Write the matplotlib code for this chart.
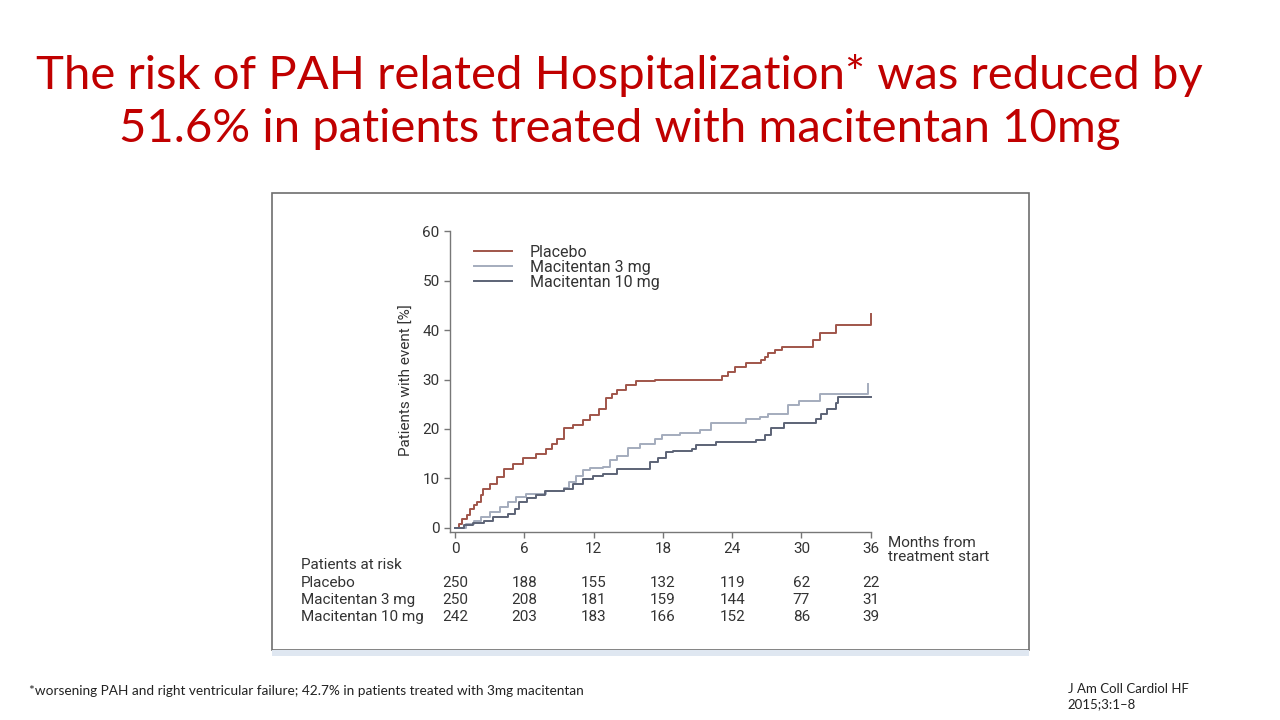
import matplotlib
matplotlib.use("Agg")
import matplotlib.pyplot as plt
from matplotlib.patches import Rectangle
from matplotlib.transforms import blended_transform_factory

# Kaplan-Meier style step curves (months, % with event)
placebo_t = [0, 0.3, 0.6, 1.0, 1.3, 1.6, 1.9, 2.2, 2.4, 3.0, 3.6, 4.2, 5.0, 5.9, 7.0, 7.9,
             8.4, 8.8, 9.4, 10.2, 11.1, 11.7, 12.5, 13.1, 13.6, 14.0, 14.8, 15.7, 17.3,
             23.1, 23.6, 24.2, 25.2, 26.5, 26.8, 27.1, 27.7, 28.3, 31.0, 31.6, 33.0, 36, 36]
placebo_v = [0, 0.8, 1.7, 2.5, 3.8, 4.5, 5.1, 6.5, 7.9, 8.9, 10.2, 11.9, 12.9, 14.0, 15.0, 16.0,
             17.0, 18.0, 20.1, 20.7, 21.7, 22.8, 24.1, 26.2, 27.0, 27.8, 28.9, 29.7, 30.0,
             30.7, 31.6, 32.6, 33.3, 33.9, 34.6, 35.3, 36.0, 36.6, 38.0, 39.4, 41.1, 41.1, 43.2]

mac3_t = [0, 0.9, 1.6, 2.2, 3.0, 3.9, 4.6, 5.3, 6.1, 7.9, 9.4, 9.9, 10.5, 11.1, 11.7, 12.8,
          13.4, 14.0, 15.0, 16.0, 17.3, 17.9, 19.5, 21.2, 22.2, 25.2, 26.4, 27.1, 28.8, 29.8,
          31.6, 35.8, 35.8]
mac3_v = [0, 0.7, 1.3, 2.1, 3.1, 4.1, 5.1, 6.2, 6.8, 7.5, 8.1, 9.2, 10.4, 11.6, 12.1, 12.3,
          13.6, 14.6, 16.2, 17.0, 18.0, 18.7, 19.2, 19.7, 21.2, 21.9, 22.4, 23.1, 24.8, 25.7,
          27.0, 27.0, 29.0]

mac10_t = [0, 0.8, 1.5, 2.5, 3.3, 4.6, 5.2, 5.5, 6.2, 7.0, 7.8, 9.4, 10.2, 11.1, 11.9, 12.8,
           14.0, 16.9, 17.6, 18.3, 18.9, 20.5, 20.9, 22.6, 26.1, 26.8, 27.4, 28.5, 31.3, 31.7,
           32.2, 33.0, 33.2, 36]
mac10_v = [0, 0.6, 1.0, 1.4, 2.1, 2.8, 3.8, 5.1, 6.0, 6.5, 7.4, 7.9, 8.9, 9.9, 10.4, 10.9,
           11.8, 13.3, 14.0, 15.3, 15.6, 16.0, 16.7, 17.3, 17.8, 18.7, 20.1, 21.1, 21.9, 23.1,
           24.1, 25.3, 26.5, 26.5]

months = [0, 6, 12, 18, 24, 30, 36]
groups = ["Placebo", "Macitentan 3 mg", "Macitentan 10 mg"]
at_risk = [
    [250, 188, 155, 132, 119, 62, 22],
    [250, 208, 181, 159, 144, 77, 31],
    [242, 203, 183, 166, 152, 86, 39],
]
colors = ["#a0554a", "#a4acbd", "#5c6376"]

title = ("The risk of PAH related Hospitalization* was reduced by\n"
         "51.6% in patients treated with macitentan 10mg")
footnote = "*worsening PAH and right ventricular failure; 42.7% in patients treated with 3mg macitentan"
citation = "J Am Coll Cardiol HF\n2015;3:1\u20138"

fs = 11  # chart text size

fig = plt.figure(figsize=(12.8, 7.2), dpi=100)

# title and slide notes
fig.text(0.484, 0.858, title, ha="center", va="center", color="#c00000",
         fontsize=34, family="Lato", linespacing=1.33)
fig.text(0.023, 0.040, footnote, ha="left", va="center", fontsize=9.8, family="Lato", color="#222222")
fig.text(0.834, 0.032, citation, ha="left", va="center", fontsize=9.5, family="Lato",
         color="#222222", linespacing=1.3)

# frame of the pasted figure
fig.patches.append(Rectangle((272 / 1280, 1 - 650 / 720), (1029 - 272) / 1280, (650 - 193) / 720,
                             transform=fig.transFigure, fill=False, edgecolor="#6e6e6e", lw=1.2))
fig.patches.append(Rectangle((272 / 1280, 1 - 656 / 720), (1029 - 272) / 1280, 6 / 720,
                             transform=fig.transFigure, facecolor="#dfe7f1", edgecolor="none"))

ax = fig.add_axes([450 / 1280, 1 - 532 / 720, (873 - 450) / 1280, (532 - 229) / 720])
ax.step(placebo_t, placebo_v, where="post", color=colors[0], lw=1.4, label=groups[0])
ax.step(mac3_t, mac3_v, where="post", color=colors[1], lw=1.4, label=groups[1])
ax.step(mac10_t, mac10_v, where="post", color=colors[2], lw=1.4, label=groups[2])

ax.set_xlim(-0.45, 36.2)
ax.set_ylim(-0.9, 60.5)
ax.set_xticks(months)
ax.set_yticks([0, 10, 20, 30, 40, 50, 60])
for s in ["top", "right"]:
    ax.spines[s].set_visible(False)
for s in ["left", "bottom"]:
    ax.spines[s].set_color("#777777")
    ax.spines[s].set_linewidth(1.0)
ax.spines["left"].set_bounds(-0.9, 60)
ax.spines["bottom"].set_bounds(-0.45, 36)
ax.tick_params(colors="#777777", labelcolor="#333333", labelsize=fs, length=4, width=1.0)
for lab in ax.get_xticklabels() + ax.get_yticklabels():
    lab.set_family("Roboto")
ax.tick_params(axis="x", pad=3)
ax.set_ylabel("Patients with event [%]", family="Roboto", fontsize=fs, color="#333333", labelpad=6)

leg = ax.legend(loc="upper left", bbox_to_anchor=(0.03, 0.985), frameon=False, handlelength=2.4,
                handletextpad=1.1, labelspacing=0.0, borderpad=0.2,
                prop={"family": "Roboto", "size": fs + 0.5})
for t in leg.get_texts():
    t.set_color("#333333")

ax.text(1.035, -0.012, "Months from\ntreatment start", transform=ax.transAxes, ha="left", va="top",
        family="Roboto", fontsize=fs, color="#333333", linespacing=1.0)

# patients at risk table
tr = blended_transform_factory(ax.transData, fig.transFigure)
fig.text(301 / 1280, 1 - 565 / 720, "Patients at risk", ha="left", va="center",
         family="Roboto", fontsize=fs, color="#333333")
row_y = [583, 600, 617]
for g, counts, yp in zip(groups, at_risk, row_y):
    fig.text(301 / 1280, 1 - yp / 720, g, ha="left", va="center",
             family="Roboto", fontsize=fs, color="#333333")
    for m, n in zip(months, counts):
        ax.text(m, 1 - yp / 720, str(n), transform=tr, ha="center", va="center",
                family="Roboto", fontsize=fs, color="#333333")

fig.savefig("out.png", dpi=100, facecolor="white")
